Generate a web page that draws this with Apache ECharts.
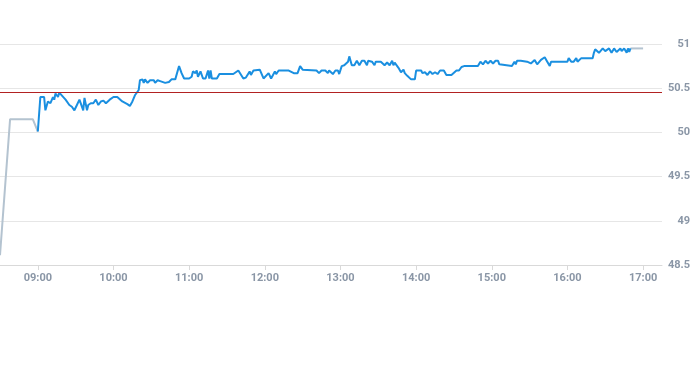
<!DOCTYPE html>
<html>
<head>
<meta charset="utf-8">
<script src="https://cdn.jsdelivr.net/npm/echarts@6/dist/echarts.min.js"></script>
<style>html,body{margin:0;padding:0;background:#fff}#c{width:693px;height:365px}</style>
</head>
<body>
<div id="c"></div>
<script>
// Pre-open auction (grey)
var preTimes = ["08:30","08:38","08:56","09:00"];
var preValues = [48.61,50.15,50.15,50.01];
// Continuous trading (blue)
var mainTimes = ["09:00","09:02","09:05","09:06","09:08","09:09","09:10","09:12","09:13","09:14","09:16","09:17","09:18","09:22","09:25","09:27","09:29","09:31","09:33","09:34","09:36","09:37","09:39","09:40","09:42","09:43","09:44","09:46","09:48","09:50","09:52","09:54","09:57","10:00","10:03","10:07","10:11","10:13","10:15","10:17","10:20","10:21","10:23","10:24","10:25","10:27","10:29","10:32","10:33","10:35","10:37","10:38","10:41","10:44","10:46","10:49","10:52","10:54","10:56","11:00","11:02","11:03","11:05","11:06","11:07","11:09","11:11","11:13","11:15","11:16","11:17","11:18","11:22","11:24","11:35","11:39","11:43","11:45","11:48","11:49","11:51","11:56","11:59","12:03","12:05","12:08","12:09","12:11","12:19","12:23","12:26","12:28","12:30","12:41","12:43","12:45","12:48","12:50","12:51","12:54","12:56","12:58","12:59","13:01","13:03","13:06","13:07","13:09","13:11","13:13","13:15","13:17","13:19","13:21","13:22","13:25","13:27","13:28","13:32","13:35","13:37","13:39","13:41","13:42","13:43","13:46","13:48","13:50","13:51","13:53","13:56","13:59","14:00","14:04","14:05","14:07","14:09","14:11","14:13","14:15","14:17","14:19","14:22","14:23","14:24","14:28","14:29","14:32","14:34","14:36","14:38","14:49","14:51","14:53","14:55","14:57","14:59","15:01","15:03","15:05","15:06","15:07","15:16","15:18","15:19","15:20","15:23","15:28","15:31","15:34","15:36","15:37","15:39","15:40","15:42","15:44","15:46","15:47","16:00","16:01","16:03","16:05","16:07","16:08","16:09","16:11","16:20","16:21","16:22","16:25","16:28","16:30","16:33","16:35","16:37","16:39","16:42","16:43","16:45","16:47","16:48","16:49","16:50"];
var mainValues = [50.01,50.40,50.40,50.25,50.35,50.37,50.33,50.40,50.37,50.44,50.40,50.45,50.43,50.37,50.31,50.29,50.25,50.31,50.37,50.39,50.25,50.39,50.25,50.31,50.33,50.35,50.33,50.37,50.31,50.35,50.36,50.33,50.37,50.40,50.40,50.35,50.32,50.30,50.35,50.42,50.48,50.59,50.60,50.56,50.60,50.56,50.59,50.59,50.56,50.59,50.58,50.56,50.56,50.57,50.60,50.60,50.75,50.67,50.61,50.61,50.63,50.69,50.67,50.70,50.63,50.69,50.61,50.61,50.70,50.61,50.70,50.61,50.61,50.66,50.66,50.70,50.61,50.62,50.69,50.65,50.70,50.71,50.61,50.67,50.61,50.69,50.66,50.70,50.70,50.67,50.67,50.75,50.71,50.70,50.67,50.70,50.70,50.67,50.70,50.66,50.70,50.70,50.66,50.75,50.76,50.80,50.86,50.76,50.76,50.81,50.76,50.81,50.81,50.76,50.81,50.80,50.76,50.80,50.80,50.76,50.79,50.76,50.81,50.76,50.79,50.73,50.68,50.71,50.67,50.64,50.60,50.60,50.70,50.70,50.67,50.68,50.65,50.69,50.66,50.68,50.66,50.70,50.70,50.68,50.65,50.65,50.67,50.70,50.70,50.74,50.75,50.75,50.80,50.77,50.81,50.78,50.81,50.78,50.81,50.81,50.77,50.75,50.75,50.80,50.77,50.81,50.81,50.80,50.78,50.82,50.77,50.75,50.82,50.80,50.85,50.80,50.75,50.80,50.80,50.84,50.80,50.80,50.84,50.80,50.81,50.84,50.84,50.90,50.94,50.90,50.95,50.92,50.95,50.90,50.95,50.91,50.95,50.92,50.95,50.90,50.95,50.91,50.95];
// Post-close (grey)
var postTimes = ["16:50","17:00"];
var postValues = [50.95,50.95];
// Reference (previous close) line
var refPrice = 50.45;
var yTicks = [48.5,49,49.5,50,50.5,51];
var axisStart = "08:30", axisEnd = "17:15";

function ts(t){var p=t.split(":");return new Date(2024,0,2,+p[0],+p[1]).getTime();}
function pairs(times, vals){return times.map(function(t,i){return [ts(t), vals[i]];});}

var chart = echarts.init(document.getElementById('c'), null, {renderer:'canvas'});
var labelColor = '#8a96a6';
chart.setOption({
  animation:false,
  backgroundColor:'#fff',
  grid:{left:0,right:29,top:44,bottom:100,containLabel:false},
  xAxis:{
    type:'time',
    min:ts(axisStart),max:ts(axisEnd),
    minInterval:3600000,maxInterval:3600000,
    axisLine:{show:true,lineStyle:{color:'#d9d9d9',width:1}},
    axisTick:{show:true,length:5,lineStyle:{color:'#d9d9d9'}},
    splitLine:{show:false},
    axisLabel:{formatter:'{HH}:{mm}',color:labelColor,fontSize:11,fontWeight:'bold',margin:8,fontFamily:'Roboto, sans-serif',showMinLabel:false,showMaxLabel:false}
  },
  yAxis:{
    type:'value',position:'right',
    min:yTicks[0],max:yTicks[yTicks.length-1],interval:0.5,
    axisLine:{show:false},axisTick:{show:false},
    splitLine:{show:true,lineStyle:{color:'#e6e6e6',width:1}},
    axisLabel:{color:labelColor,fontSize:11,fontWeight:'bold',align:'right',margin:28,fontFamily:'Roboto, sans-serif'}
  },
  series:[
    {type:'line',data:pairs(preTimes,preValues),showSymbol:false,symbol:'none',lineStyle:{color:'#b4c3d0',width:2},z:2},
    {type:'line',data:pairs(postTimes,postValues),showSymbol:false,symbol:'none',lineStyle:{color:'#b4c3d0',width:2},z:2},
    {type:'line',data:pairs(mainTimes,mainValues),showSymbol:false,symbol:'none',lineStyle:{color:'#1a8fe0',width:2},z:3,
     markLine:{silent:true,symbol:'none',label:{show:false},lineStyle:{color:'#b22222',width:1,type:'solid'},data:[{yAxis:refPrice}]}}
  ]
});
</script>
</body>
</html>
